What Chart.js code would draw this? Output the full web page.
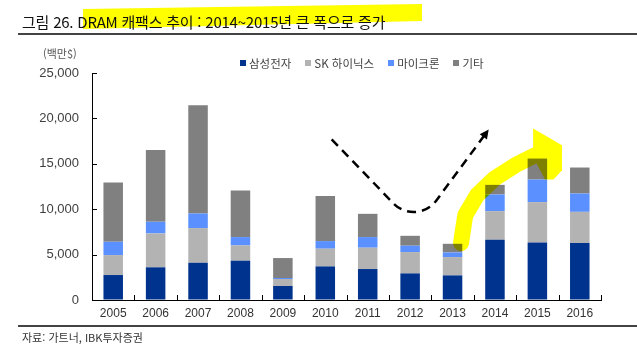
<!DOCTYPE html>
<html lang="ko">
<head>
  <meta charset="UTF-8">
  <title>DRAM 캐팩스 추이</title>
  <style>
    body { margin: 0; background: #fff; }
    #wrap { position: relative; width: 637px; height: 353px; overflow: hidden; font-family: "Noto Sans CJK KR", sans-serif; }
    #myChart { position: absolute; left: 0; top: 0; }
    #hl { position: absolute; left: 83px; top: 3px; width: 339px; height: 27px; background: #ffff00;
          clip-path: polygon(0 6px, 100% 1px, 100% 18px, 0 26px); }
    #title { position: absolute; left: 22px; top: 11px; font-size: 15px; color: #111; white-space: nowrap; letter-spacing: -0.22px; }
    .rule { position: absolute; left: 18px; width: 619px; height: 2px; background: #444; }
    #unit { position: absolute; left: 43px; top: 45px; font-size: 11px; color: #555; }
    #legend { position: absolute; left: 240px; top: 55px; display: flex; font-size: 11.5px; color: #444; }
    #legend span.item { margin-right: 14px; display: flex; align-items: center; }
    #legend span.box { display: inline-block; width: 6px; height: 6px; margin-right: 3px; }
    #src { position: absolute; left: 22px; top: 329px; font-size: 11px; color: #333; }
  </style>
</head>
<body>
<div id="wrap">
  <canvas id="myChart" width="637" height="353"></canvas>
  <div id="hl"></div>
  <div id="title">그림 26. DRAM 캐팩스 추이 : 2014~2015년 큰 폭으로 증가</div>
  <div class="rule" style="top:33px"></div>
  <div id="unit">(백만$)</div>
  <div id="legend"></div>
  <div class="rule" style="top:325px"></div>
  <div id="src">자료: 가트너, IBK투자증권</div>
</div>
<script src="https://cdn.jsdelivr.net/npm/chart.js"></script>
<script>
const years = ['2005', '2006', '2007', '2008', '2009', '2010', '2011', '2012', '2013', '2014', '2015', '2016']
const seriesNames = ['삼성전자', 'SK 하이닉스', '마이크론', '기타']
const samsung = [2750, 3600, 4100, 4330, 1540, 3700, 3410, 2930, 2710, 6630, 6340, 6270]
const skHynix = [2200, 3730, 3820, 1680, 770, 1950, 2350, 2350, 2020, 3160, 4440, 3440]
const micron = [1460, 1280, 1610, 920, 110, 840, 1170, 700, 510, 1830, 2490, 2020]
const others = [6530, 7920, 11910, 5130, 2200, 4950, 2560, 1090, 950, 1060, 2310, 2860]
const yTicks = [0, 5000, 10000, 15000, 20000, 25000]

const colors = ['#00338d', '#b3b3b3', '#5a90ff', '#808080']
const values = [samsung, skHynix, micron, others]

// legend (html)
const legend = document.getElementById('legend')
seriesNames.forEach((name, i) => {
  legend.innerHTML += `<span class="item"><span class="box" style="background:${colors[i]}"></span>${name}</span>`
})

// annotation paths in (category index, value) units
const dashedPath = { start: [5.15, 17700], corner: [7.15, 8000], end: [8.81, 18500] }
const yellowShaft = [[8.2, 6270], [8.3, 9350], [8.58, 11550], [9.0, 13420], [9.48, 14850], [9.95, 15950]]
const yellowHead = [[9.9, 18900], [10.58, 17050], [10.58, 14300], [10.38, 13280], [10.18, 13280], [9.9, 15760]]

const insideTicks = {
  id: 'insideTicks',
  afterDatasetsDraw(chart) {
    const { ctx, scales: { x, y } } = chart
    const step = x.getPixelForValue(1) - x.getPixelForValue(0)
    ctx.save()
    ctx.strokeStyle = '#000'
    ctx.lineWidth = 1
    ctx.beginPath()
    yTicks.forEach(v => {
      const py = Math.round(y.getPixelForValue(v)) + 0.5
      ctx.moveTo(x.left, py); ctx.lineTo(x.left + 5, py)
    })
    for (let i = 0; i <= years.length; i++) {
      const px = Math.round(x.getPixelForValue(0) + (i - 0.5) * step) + 0.5
      ctx.moveTo(px, y.bottom); ctx.lineTo(px, y.bottom - 5)
    }
    ctx.stroke()
    ctx.restore()
  }
}

const arrows = {
  id: 'arrows',
  afterDraw(chart) {
    const { ctx, scales: { x, y } } = chart
    const step = x.getPixelForValue(1) - x.getPixelForValue(0)
    const P = ([i, v]) => [x.getPixelForValue(0) + i * step, y.getPixelForValue(v)]

    // dashed black arrow
    const s = P(dashedPath.start), c = P(dashedPath.corner), e = P(dashedPath.end)
    ctx.save()
    ctx.strokeStyle = '#000'
    ctx.lineWidth = 2.5
    ctx.setLineDash([9, 6])
    ctx.beginPath()
    ctx.moveTo(s[0], s[1])
    ctx.arcTo(c[0], c[1], e[0], e[1], 28)
    ctx.lineTo(e[0], e[1])
    ctx.stroke()
    const ang = Math.atan2(e[1] - c[1], e[0] - c[0])
    ctx.setLineDash([])
    ctx.fillStyle = '#000'
    ctx.beginPath()
    ctx.moveTo(e[0] + 3 * Math.cos(ang), e[1] + 3 * Math.sin(ang))
    ctx.lineTo(e[0] - 6 * Math.cos(ang) + 4.5 * Math.sin(ang), e[1] - 6 * Math.sin(ang) - 4.5 * Math.cos(ang))
    ctx.lineTo(e[0] - 6 * Math.cos(ang) - 4.5 * Math.sin(ang), e[1] - 6 * Math.sin(ang) + 4.5 * Math.cos(ang))
    ctx.closePath()
    ctx.fill()
    ctx.restore()

    // yellow highlighter arrow
    ctx.save()
    ctx.globalCompositeOperation = 'multiply'
    ctx.strokeStyle = '#ffff00'
    ctx.fillStyle = '#ffff00'
    ctx.lineWidth = 16
    ctx.lineCap = 'round'
    ctx.lineJoin = 'round'
    ctx.beginPath()
    yellowShaft.forEach((pt, k) => {
      const [px, py] = P(pt)
      if (k === 0) ctx.moveTo(px, py); else ctx.lineTo(px, py)
    })
    ctx.stroke()
    ctx.beginPath()
    yellowHead.forEach((pt, k) => {
      const [px, py] = P(pt)
      if (k === 0) ctx.moveTo(px, py); else ctx.lineTo(px, py)
    })
    ctx.closePath()
    ctx.fill()
    ctx.restore()
  }
}

new Chart(document.getElementById('myChart'), {
  type: 'bar',
  data: {
    labels: years,
    datasets: seriesNames.map((name, i) => ({
      label: name,
      data: values[i],
      backgroundColor: colors[i],
      borderWidth: 0,
      categoryPercentage: 1,
      barPercentage: 0.46
    }))
  },
  options: {
    responsive: false,
    animation: false,
    devicePixelRatio: 1,
    layout: { padding: { left: 0, right: 36, top: 73, bottom: 33 } },
    plugins: { legend: { display: false }, tooltip: { enabled: false } },
    scales: {
      x: {
        stacked: true,
        grid: { display: true, drawOnChartArea: false, drawTicks: false },
        border: { display: true, color: '#000', width: 1 },
        ticks: { padding: 6, color: '#333', font: { family: 'Liberation Sans', size: 12 } },
        afterFit(scale) { scale.height = 20 }
      },
      y: {
        stacked: true,
        min: 0,
        max: 25000,
        grid: { display: true, drawOnChartArea: false, drawTicks: false },
        border: { display: true, color: '#000', width: 1 },
        ticks: {
          stepSize: 5000,
          padding: 13,
          color: '#404040',
          font: { family: 'Liberation Sans', size: 13 },
          callback: v => v.toLocaleString('en-US')
        },
        afterFit(scale) { scale.width = 92 }
      }
    }
  },
  plugins: [insideTicks, arrows]
})
</script>
</body>
</html>
